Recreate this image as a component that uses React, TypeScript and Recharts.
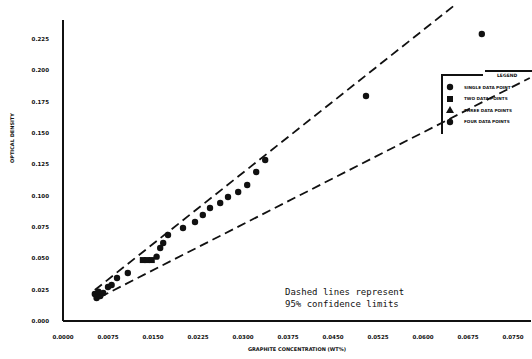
import { ScatterChart, Scatter, XAxis, YAxis, ReferenceLine } from "recharts";

// graphite concentration vs optical density
const singlePoints = [
  { x: 0.0056, y: 0.0183 }, { x: 0.0053, y: 0.0215 }, { x: 0.0062, y: 0.0199 },
  { x: 0.0059, y: 0.0234 }, { x: 0.0067, y: 0.0223 }, { x: 0.0075, y: 0.0271 },
  { x: 0.0081, y: 0.0287 }, { x: 0.009, y: 0.0343 }, { x: 0.0108, y: 0.0383 },
  { x: 0.0156, y: 0.0513 }, { x: 0.0162, y: 0.0582 }, { x: 0.0167, y: 0.0622 },
  { x: 0.0175, y: 0.0686 }, { x: 0.02, y: 0.0742 }, { x: 0.022, y: 0.0789 },
  { x: 0.0233, y: 0.0845 }, { x: 0.0245, y: 0.0901 }, { x: 0.0262, y: 0.0941 },
  { x: 0.0275, y: 0.0989 }, { x: 0.0292, y: 0.1029 }, { x: 0.0307, y: 0.1085 },
  { x: 0.0322, y: 0.1188 }, { x: 0.0337, y: 0.1284 },
  { x: 0.0505, y: 0.1794 }, { x: 0.0698, y: 0.2289 },
];
const twoPoints = [
  { x: 0.0133, y: 0.0486 }, { x: 0.014, y: 0.0486 }, { x: 0.0148, y: 0.0486 },
];
const upperLimit = [{ x: 0.0053, y: 0.0247 }, { x: 0.0653, y: 0.252 }];
const lowerLimit = [{ x: 0.0062, y: 0.0191 }, { x: 0.0778, y: 0.1938 }];

const xTicks = [0, 0.0075, 0.015, 0.0225, 0.03, 0.0375, 0.045, 0.0525, 0.06, 0.0675, 0.075];
const yTicks = [0, 0.025, 0.05, 0.075, 0.1, 0.125, 0.15, 0.175, 0.2, 0.225];
const legendItems = ["SINGLE DATA POINT", "TWO DATA POINTS", "THREE DATA POINTS", "FOUR DATA POINTS"];

const ink = "#111";
const tickFont = { fontSize: 5.5, fontWeight: 700, fill: ink, fontFamily: "DejaVu Sans" };

function Marker({ i }: { i: number }) {
  if (i === 1) return <rect x={1} y={1} width={6} height={6} fill={ink} />;
  if (i === 2) return <polygon points="4,0 8,7 0,7" fill={ink} />;
  return <circle cx={4} cy={4} r={3.2} fill={ink} />;
}

function LegendBox() {
  return (
    <div style={{ position: "absolute", left: 441, top: 72, width: 91, height: 62, fontFamily: "DejaVu Sans", fontWeight: 700, color: ink }}>
      <div style={{ position: "absolute", left: 0, top: 2, width: 2, height: 60, background: ink }} />
      <div style={{ position: "absolute", left: 0, top: 2, width: 42, height: 2, background: ink }} />
      <div style={{ position: "absolute", left: 44, top: -2, width: 47, height: 2, background: ink }} />
      <div style={{ position: "absolute", left: 56, top: 1, fontSize: 4.5 }}>LEGEND</div>
      {legendItems.map((t, i) => (
        <div key={t} style={{ position: "absolute", left: 5, top: 11 + i * 11.5, display: "flex", alignItems: "center" }}>
          <svg width={8} height={8}><Marker i={i} /></svg>
          <span style={{ marginLeft: 10, fontSize: 4.2, whiteSpace: "nowrap" }}>{t}</span>
        </div>
      ))}
    </div>
  );
}

const noShape = () => <g />;
const dot = (p: any) => <circle cx={p.cx} cy={p.cy} r={3.2} fill={ink} />;
const square = (p: any) => <rect x={p.cx - 3} y={p.cy - 3} width={6} height={6} fill={ink} />;

export default function App() {
  return (
    <div style={{ position: "absolute", left: 0, top: 0, width: 532, height: 359, background: "#fff" }}>
      <ScatterChart width={532} height={359} margin={{ top: 5, right: 1, left: 0, bottom: 0 }}>
        <XAxis
          type="number"
          dataKey="x"
          domain={[0, 0.078]}
          ticks={xTicks}
          tickFormatter={(v: number) => v.toFixed(4)}
          tick={tickFont}
          tickLine={false}
          axisLine={{ stroke: ink, strokeWidth: 2 }}
          tickMargin={8}
          height={38}
          allowDataOverflow
          label={{ value: "GRAPHITE CONCENTRATION (WT%)", position: "insideBottom", offset: 8, style: { ...tickFont, fontSize: 5 } }}
        />
        <YAxis
          type="number"
          dataKey="y"
          domain={[0, 0.252]}
          ticks={yTicks}
          tickFormatter={(v: number) => v.toFixed(3)}
          tick={tickFont}
          tickLine={false}
          axisLine={false}
          tickMargin={8}
          width={63}
          allowDataOverflow
          label={{ value: "OPTICAL DENSITY", angle: -90, position: "insideLeft", offset: 12, style: { ...tickFont, fontSize: 5 } }}
        />
        <ReferenceLine segment={[{ x: 0, y: 0 }, { x: 0, y: 0.24 }]} stroke={ink} strokeWidth={2} ifOverflow="visible" />
        <Scatter data={upperLimit} shape={noShape} line={{ stroke: ink, strokeWidth: 1.8, strokeDasharray: "9 5" }} isAnimationActive={false} legendType="none" />
        <Scatter data={lowerLimit} shape={noShape} line={{ stroke: ink, strokeWidth: 1.8, strokeDasharray: "9 5" }} isAnimationActive={false} legendType="none" />
        <Scatter name="SINGLE DATA POINT" data={singlePoints} fill={ink} shape={dot} isAnimationActive={false} />
        <Scatter name="TWO DATA POINTS" data={twoPoints} fill={ink} shape={square} isAnimationActive={false} />
      </ScatterChart>
      <LegendBox />
      <div style={{ position: "absolute", left: 285, top: 286, fontFamily: "DejaVu Sans Mono", fontSize: 9, lineHeight: "12px", color: ink, whiteSpace: "pre" }}>
        {"Dashed lines represent\n95% confidence limits"}
      </div>
    </div>
  );
}
